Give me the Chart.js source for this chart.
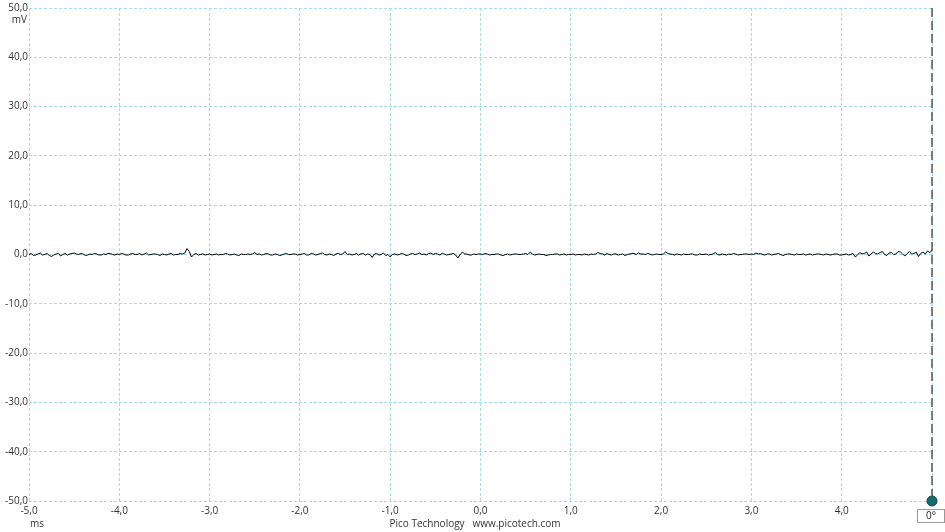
<!DOCTYPE html>
<html>
<head>
<meta charset="utf-8">
<script src="https://cdn.jsdelivr.net/npm/chart.js@4.4.0/dist/chart.umd.min.js"></script>
<style>
  html, body { margin: 0; padding: 0; background: #fff; }
  #wrap { width: 945px; height: 532px; }
</style>
</head>
<body>
<div id="wrap"><canvas id="scope"></canvas></div>
<script>
// timebase: -5 ms .. +5 ms, one sample every 0.025 ms
const startMs = -5.0;
const sampleMs = 0.025;
// channel A, mV, one row per ms
const channelA = [
  0.0, 0.2, -0.2, -0.1, 0.1, 0.3, -0.1, 0.0, 0.2, -0.2, -0.4, -0.1, 0.1, 0.2, -0.3, 0.0, 0.2, -0.1, 0.1, 0.2, 0.3, 0.1, 0.0, 0.2, 0.1, -0.2, -0.1, 0.1, 0.0, 0.2, 0.1, -0.1, -0.1, 0.1, 0.0, 0.2, 0.2, 0.0, -0.1, 0.1,
  0.0, 0.2, 0.1, -0.1, -0.1, 0.1, 0.2, 0.0, 0.0, 0.2, -0.1, 0.1, 0.3, -0.1, 0.0, 0.1, 0.1, 0.0, -0.2, 0.1, 0.0, -0.1, 0.1, 0.2, -0.1, 0.0, 0.0, 0.2, 0.1, 0.3, 1.2, 0.6, -0.5, 0.0, 0.2, -0.1, 0.0, 0.1, -0.1, 0.0,
  0.1, -0.1, 0.0, 0.1, -0.1, 0.0, 0.0, 0.2, 0.1, -0.1, 0.0, 0.1, -0.1, -0.2, 0.1, 0.0, 0.0, 0.1, 0.0, 0.1, 0.4, 0.0, 0.1, -0.1, 0.0, 0.2, 0.1, -0.1, -0.1, 0.1, 0.0, -0.2, -0.1, 0.1, 0.2, 0.0, 0.0, 0.1, 0.1, -0.1,
  0.0, 0.1, 0.2, -0.1, -0.1, 0.2, 0.1, -0.1, 0.0, 0.2, 0.3, 0.0, -0.1, 0.1, 0.0, -0.2, 0.1, 0.2, 0.0, 0.1, 0.6, 0.0, 0.1, -0.1, 0.0, 0.2, -0.1, 0.1, 0.2, -0.1, 0.1, 0.0, -0.6, 0.1, 0.2, -0.1, 0.0, 0.3, -0.2, 0.0,
  -0.5, 0.0, 0.1, -0.1, 0.0, 0.2, 0.1, -0.2, -0.1, 0.1, 0.2, 0.0, 0.1, 0.3, 0.0, 0.1, -0.1, 0.2, 0.3, 0.0, 0.2, 0.1, -0.1, 0.2, 0.1, -0.1, 0.0, 0.1, 0.2, -0.1, -0.7, 0.0, 0.5, 0.1, 0.1, -0.1, -0.1, 0.1, 0.0, 0.1,
  0.1, 0.0, 0.2, 0.1, -0.1, 0.0, 0.0, 0.1, 0.1, -0.1, -0.2, 0.0, 0.1, -0.1, 0.0, 0.1, 0.1, 0.0, 0.0, 0.1, 0.2, 0.0, 0.5, 0.1, -0.1, 0.0, 0.1, 0.0, 0.0, -0.2, -0.1, 0.0, 0.0, 0.1, 0.1, -0.1, 0.0, 0.1, -0.1, 0.0,
  0.0, 0.1, -0.1, 0.0, 0.0, -0.1, 0.1, 0.0, -0.1, 0.1, 0.0, 0.1, 0.4, 0.2, 0.1, -0.1, 0.2, 0.0, -0.1, 0.1, 0.1, -0.1, 0.0, 0.1, -0.2, 0.0, 0.1, 0.2, 0.2, 0.0, 0.3, 0.1, 0.1, 0.0, 0.2, 0.1, -0.1, 0.0, 0.1, 0.0,
  0.0, 0.1, 0.5, 0.2, 0.1, 0.0, -0.1, 0.1, 0.0, -0.1, 0.1, 0.0, 0.0, 0.1, 0.1, -0.1, -0.1, 0.1, 0.0, 0.0, 0.1, -0.1, 0.0, 0.1, 0.4, 0.0, -0.1, 0.1, 0.0, -0.1, 0.1, 0.0, 0.2, 0.1, -0.1, 0.0, 0.0, 0.1, 0.1, 0.0,
  0.1, 0.0, 0.3, 0.1, 0.2, 0.0, -0.1, 0.1, 0.1, -0.1, 0.0, 0.1, 0.2, 0.0, -0.2, 0.0, 0.1, 0.1, 0.0, -0.1, 0.1, 0.0, 0.0, 0.1, -0.1, 0.0, 0.1, -0.1, 0.0, 0.1, 0.1, 0.0, -0.1, 0.1, 0.0, -0.1, 0.0, 0.1, 0.1, -0.1,
  -0.1, 0.0, 0.1, -0.1, 0.0, 0.2, -0.5, -0.1, 0.4, 0.1, 0.2, 0.5, -0.3, 0.1, 0.5, 0.2, 0.1, 0.4, 0.6, 0.0, -0.2, 0.3, 0.4, 0.0, 0.1, 0.6, 0.5, 0.1, -0.3, 0.2, 0.6, 0.1, 0.2, 0.5, -0.4, 0.2, 0.5, 0.1, 0.7, 0.4,
  0.8
];
const xRange = [-5, 5];
const yRange = [-50, 50];
const triggerMs = 5.0;
const triggerLabel = "0°";
const xUnit = "ms";
const yUnit = "mV";
const footer = "Pico Technology   www.picotech.com";

const fmt = v => v.toFixed(1).replace(".", ",");
const points = channelA.map((v, i) => ({ x: startMs + i * sampleMs, y: v }));

const extras = {
  id: "extras",
  afterDraw(chart) {
    const c = chart.ctx;
    const xs = chart.scales.x, ys = chart.scales.y;
    c.save();
    c.font = "10px 'Open Sans', sans-serif";
    c.fillStyle = "#333";
    c.textBaseline = "middle";
    c.textAlign = "right";
    c.fillText(yUnit, xs.left - 2, ys.getPixelForValue(yRange[1]) + 12);
    c.textAlign = "left";
    c.fillText(xUnit, xs.left + 1, ys.bottom + 23);
    c.textAlign = "center";
    c.fillText(footer, 475, ys.bottom + 23);
    // trigger marker box
    const tx = xs.getPixelForValue(triggerMs);
    c.fillStyle = "#fff";
    c.strokeStyle = "#999";
    c.lineWidth = 1;
    c.fillRect(tx - 14.5, ys.bottom + 8.5, 27, 13);
    c.strokeRect(tx - 14.5, ys.bottom + 8.5, 27, 13);
    c.fillStyle = "#222";
    c.fillText(triggerLabel, tx - 1, ys.bottom + 15);
    c.restore();
  }
};

new Chart(document.getElementById("scope"), {
  type: "scatter",
  data: {
    datasets: [
      {
        data: points,
        showLine: true,
        borderColor: "#000",
        borderWidth: 1,
        pointRadius: 0,
      },
      {
        data: [{ x: triggerMs, y: yRange[1] }, { x: triggerMs, y: yRange[0] }],
        showLine: true,
        borderColor: "#555",
        borderWidth: 1.5,
        borderDash: [9, 4],
        pointRadius: 0,
        clip: false,
      },
      {
        data: [{ x: triggerMs, y: yRange[0] }],
        pointRadius: 5,
        backgroundColor: "#106e6e",
        borderColor: "#0a4040",
        borderWidth: 1,
        clip: false,
      },
    ],
  },
  options: {
    responsive: true,
    maintainAspectRatio: false,
    animation: false,
    layout: { padding: { top: 8, right: 13, left: 0, bottom: 0 } },
    plugins: { legend: { display: false }, tooltip: { enabled: false } },
    scales: {
      x: {
        type: "linear",
        min: xRange[0],
        max: xRange[1],
        afterFit: s => { s.height = 31; },
        ticks: {
          stepSize: 1,
          padding: 4,
          color: "#333",
          font: { size: 10, family: "'Open Sans', sans-serif" },
          callback: v => (v >= xRange[1] ? "" : fmt(v)),
        },
        grid: { color: "#a6dcef", drawTicks: false },
        border: { display: false, dash: [3, 2] },
      },
      y: {
        min: yRange[0],
        max: yRange[1],
        afterFit: s => { s.width = 29; },
        ticks: {
          stepSize: 10,
          padding: 1,
          color: "#333",
          font: { size: 10, family: "'Open Sans', sans-serif" },
          callback: v => fmt(v),
        },
        grid: { color: "#a6dcef", drawTicks: false },
        border: { display: false, dash: [3, 2] },
      },
    },
  },
  plugins: [extras],
});
</script>
</body>
</html>
